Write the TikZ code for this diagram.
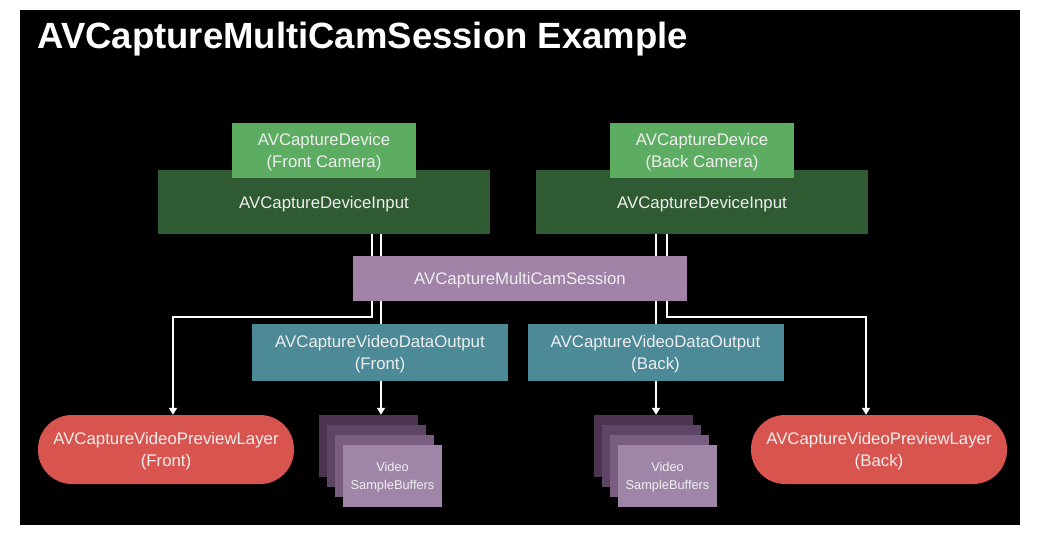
\documentclass[tikz,border=0pt]{standalone}
\usepackage{fontspec}
\setmainfont{Liberation Sans}
\usetikzlibrary{arrows.meta,positioning}
\definecolor{devicegreen}{HTML}{5CAC62}
\definecolor{inputgreen}{HTML}{2F5A32}
\definecolor{sessionmauve}{HTML}{A083A6}
\definecolor{outputteal}{HTML}{4C8A98}
\definecolor{previewred}{HTML}{D8544F}
\definecolor{bufferA}{HTML}{4A3450}
\definecolor{bufferB}{HTML}{5D4566}
\definecolor{bufferC}{HTML}{7A5E82}
\definecolor{bufferD}{HTML}{9F86A8}
\definecolor{boxtext}{HTML}{EEEEEE}
\tikzset{
        box/.style={align=center,inner sep=0pt,text depth=-7pt,text=boxtext,font=\fontsize{16.8}{21.5}\selectfont},
        % Capture devices
        node_device/.style={box, rectangle, fill=devicegreen, minimum width=184pt, minimum height=55pt},
        % Device inputs
        node_input/.style={box, rectangle, fill=inputgreen, minimum width=332pt, minimum height=64pt},
        % Session
        node_session/.style={box, rectangle, fill=sessionmauve, minimum width=334pt, minimum height=45pt},
        % Data outputs
        node_output/.style={box, rectangle, fill=outputteal, minimum width=256pt, minimum height=57pt},
        % Preview layers
        node_preview/.style={box, rectangle, rounded corners=34pt, fill=previewred, minimum width=256pt, minimum height=69pt},
        % Sample buffers
        node_buffer/.style={box, rectangle, minimum width=99pt, minimum height=62pt, font=\fontsize{12.8}{18}\selectfont},
        % Connectors
        link/.style={draw=white, line width=2pt},
        link_arrow/.style={link, -{Triangle[width=8pt,length=7pt]}}
}

\begin{document}
\begin{tikzpicture}[x=1pt, y=-1pt]
            \useasboundingbox (0,0) rectangle (1044,538);
            \fill[white] (0,0) rectangle (1044,538);
            \fill[black] (20,10) rectangle (1020,525);
            \node[anchor=base west, text=white, font=\fontsize{36.5}{40}\selectfont\bfseries] (title) at (34,48) {AVCaptureMultiCamSession Example};

            \node[node_input] (input_front) at (324,202) {AVCaptureDeviceInput};
            \node[node_input] (input_back) at (702,202) {AVCaptureDeviceInput};
            \node[node_device] (device_front) at (324,150.5) {AVCaptureDevice\\(Front Camera)};
            \node[node_device] (device_back) at (702,150.5) {AVCaptureDevice\\(Back Camera)};
            \node[node_session] (session) at (520,278.5) {AVCaptureMultiCamSession};
            \node[node_output] (output_front) at (380,352.5) {AVCaptureVideoDataOutput\\(Front)};
            \node[node_output] (output_back) at (655.5,352.5) {AVCaptureVideoDataOutput\\(Back)};
            \node[node_preview] (preview_front) at (166,449.5) {AVCaptureVideoPreviewLayer\\(Front)};
            \node[node_preview] (preview_back) at (879,449.5) {AVCaptureVideoPreviewLayer\\(Back)};

            % Front buffers
            \node[node_buffer, fill=bufferA] (buffers_front_a) at (368.5,446) {};
            \node[node_buffer, fill=bufferB] (buffers_front_b) at (376.5,456) {};
            \node[node_buffer, fill=bufferC] (buffers_front_c) at (384.5,466) {};
            \node[node_buffer, fill=bufferD] (buffers_front_d) at (392.5,476) {Video\\SampleBuffers};
            % Back buffers
            \node[node_buffer, fill=bufferA] (buffers_back_a) at (643.5,446) {};
            \node[node_buffer, fill=bufferB] (buffers_back_b) at (651.5,456) {};
            \node[node_buffer, fill=bufferC] (buffers_back_c) at (659.5,466) {};
            \node[node_buffer, fill=bufferD] (buffers_back_d) at (667.5,476) {Video\\SampleBuffers};

            \coordinate (lane_front_preview) at (372,0);
            \coordinate (lane_front_output) at (381,0);
            \coordinate (lane_back_output) at (656,0);
            \coordinate (lane_back_preview) at (667,0);
            \coordinate (turn_front) at (173,317);
            \coordinate (turn_back) at (866,317);

            \draw[link] (input_front.south -| lane_front_preview) -- (session.north -| lane_front_preview);
            \draw[link] (input_front.south -| lane_front_output) -- (session.north -| lane_front_output);
            \draw[link] (input_back.south -| lane_back_output) -- (session.north -| lane_back_output);
            \draw[link] (input_back.south -| lane_back_preview) -- (session.north -| lane_back_preview);
            \draw[link] (session.south -| lane_front_output) -- (output_front.north -| lane_front_output);
            \draw[link] (session.south -| lane_back_output) -- (output_back.north -| lane_back_output);
            \draw[link_arrow] (session.south -| lane_front_preview) |- (turn_front) -- (turn_front |- preview_front.north);
            \draw[link_arrow] (session.south -| lane_back_preview) |- (turn_back) -- (turn_back |- preview_back.north);
            \draw[link_arrow] (output_front.south -| lane_front_output) -- (buffers_front_a.north -| lane_front_output);
            \draw[link_arrow] (output_back.south -| lane_back_output) -- (buffers_back_a.north -| lane_back_output);
        \end{tikzpicture}
\end{document}
